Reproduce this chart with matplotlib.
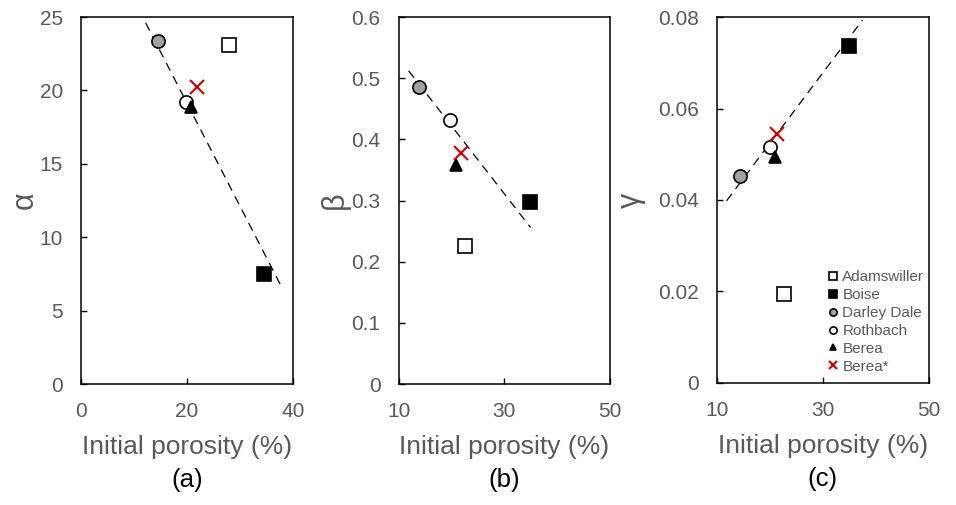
import matplotlib
matplotlib.use("Agg")
import matplotlib.pyplot as plt
from matplotlib.ticker import FuncFormatter

plt.rcParams['font.family'] = ['Liberation Sans', 'DejaVu Sans']

# rock types and their markers
rocks = ['Adamswiller', 'Boise', 'Darley Dale', 'Rothbach', 'Berea', 'Berea*']
markers = ['s', 's', 'o', 'o', '^', 'x']
faces = ['white', 'black', '#a0a0a0', 'white', 'black', '#d40000']
sizes = [10, 10, 9.5, 9.5, 8, 10]

# porosity (%)
por_a = [28.0, 34.6, 14.6, 19.8, 20.8, 21.8]
por_b = [22.6, 34.9, 13.9, 19.7, 20.9, 21.9]
por_c = [22.7, 34.9, 14.3, 20.0, 21.0, 21.3]

alpha_vals = [23.1, 7.5, 23.4, 19.2, 18.9, 20.25]
beta_vals = [0.226, 0.297, 0.485, 0.431, 0.358, 0.378]
gamma_vals = [0.0194, 0.0737, 0.0453, 0.0515, 0.0494, 0.0545]

# dashed trend lines (end points)
fit_a_x = [12.2, 38.0]
fit_a_y = [24.6, 6.5]
fit_b_x = [11.9, 35.0]
fit_b_y = [0.512, 0.256]
fit_c_x = [11.8, 37.5]
fit_c_y = [0.0398, 0.0794]

grey = '#595959'

fig = plt.figure(figsize=(9.56, 5.05), dpi=100)

panels = [
    dict(pos=[0.0847, 0.2396, 0.2218, 0.7267], x=por_a, y=alpha_vals, fx=fit_a_x, fy=fit_a_y,
         xlim=(0, 40), xt=[0, 20, 40], ylim=(0, 25), yt=[0, 5, 10, 15, 20, 25],
         ylab='α', tag='(a)', ylp=0),
    dict(pos=[0.417, 0.2396, 0.2207, 0.7267], x=por_b, y=beta_vals, fx=fit_b_x, fy=fit_b_y,
         xlim=(10, 50), xt=[10, 30, 50], ylim=(0, 0.6), yt=[0, 0.1, 0.2, 0.3, 0.4, 0.5, 0.6],
         ylab='β', tag='(b)', ylp=1),
    dict(pos=[0.75, 0.2422, 0.2214, 0.7236], x=por_c, y=gamma_vals, fx=fit_c_x, fy=fit_c_y,
         xlim=(10, 50), xt=[10, 30, 50], ylim=(0, 0.08), yt=[0, 0.02, 0.04, 0.06, 0.08],
         ylab='γ', tag='(c)', ylp=9),
]

for p in panels:
    ax = fig.add_axes(p['pos'])
    ax.plot(p['fx'], p['fy'], color='black', lw=0.9, ls=(0, (7, 5)), zorder=1)
    for i in range(len(rocks)):
        if markers[i] == 'x':
            ax.plot(p['x'][i], p['y'][i], marker='x', ms=sizes[i], mew=1.5,
                    color=faces[i], ls='none', label=rocks[i], zorder=3)
        else:
            ax.plot(p['x'][i], p['y'][i], marker=markers[i], ms=sizes[i], mfc=faces[i],
                    mec='black', mew=1.2, ls='none', label=rocks[i], zorder=2)
    ax.set_xlim(p['xlim'])
    ax.set_ylim(p['ylim'])
    ax.set_xticks(p['xt'])
    ax.set_yticks(p['yt'])
    ax.yaxis.set_major_formatter(FuncFormatter(lambda v, pos: '%g' % round(v, 4)))
    ax.tick_params(direction='in', length=4.5, width=1, labelsize=15, labelcolor=grey, pad=13)
    for s in ax.spines.values():
        s.set_linewidth(1.1)
    ax.set_xlabel('Initial porosity (%)', fontsize=19, color=grey, labelpad=10)
    ax.set_ylabel(p['ylab'], fontsize=22, color=grey, labelpad=p['ylp'])
    ax.text(0.5, -0.23, p['tag'], transform=ax.transAxes, ha='center', va='top', fontsize=18.5)

leg = ax.legend(loc='lower right', bbox_to_anchor=(0.98, 0.025), frameon=False,
                markerscale=0.55, fontsize=11, labelcolor=grey, handlelength=0.6,
                handletextpad=0.3, labelspacing=0.25, borderpad=0, borderaxespad=0)

fig.savefig('out.png', dpi=100)
